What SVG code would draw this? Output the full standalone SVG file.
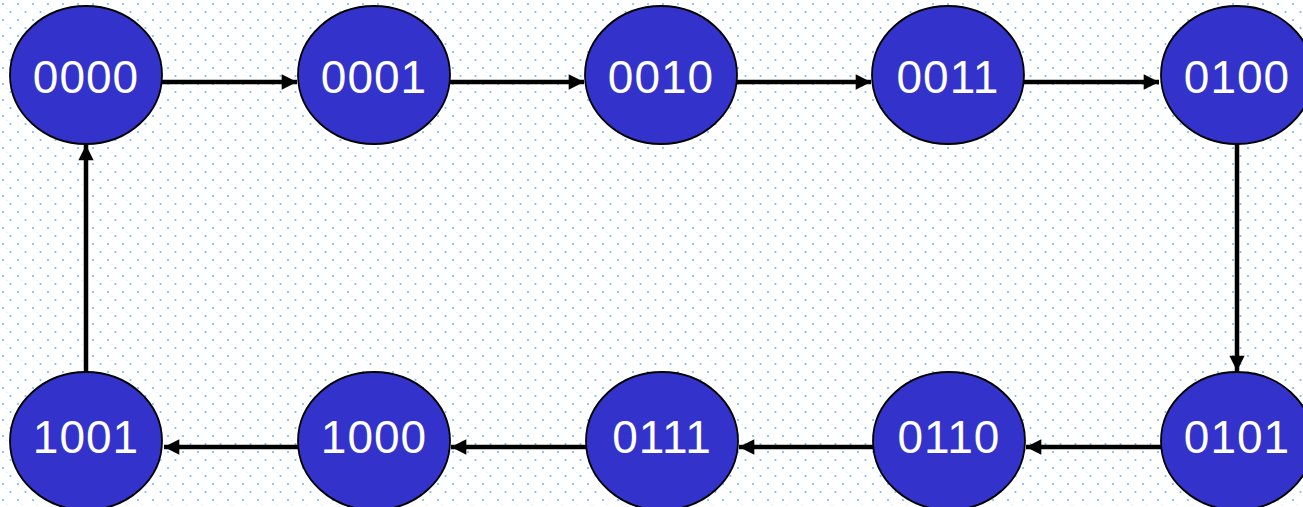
<svg xmlns="http://www.w3.org/2000/svg" width="1303" height="507" viewBox="0 0 1303 507">
<defs>
<pattern id="dots" width="15" height="16" patternUnits="userSpaceOnUse">
<rect width="15" height="16" fill="#ffffff"/>
<circle cx="3" cy="4" r="1.1" fill="#6cc2f2"/>
<circle cx="10.5" cy="12" r="1.1" fill="#6cc2f2"/>
<circle cx="7" cy="8.5" r="0.6" fill="#c8e8fa"/>
</pattern>
<marker id="ah" viewBox="0 0 10 10" refX="10" refY="5" markerWidth="3.6" markerHeight="3.4" orient="auto" markerUnits="strokeWidth">
<path d="M0,0 L10,5 L0,10 z" fill="#000"/>
</marker>
<style>
.n ellipse{fill:#3333cc;stroke:#000;stroke-width:1.8}
.n text{fill:#fff;font-family:"Liberation Sans",Arial,sans-serif;font-size:46px;text-anchor:middle;dominant-baseline:central;letter-spacing:1px}
.c line{stroke:#000;stroke-width:4.5;marker-end:url(#ah)}
</style>
</defs>
<rect width="1303" height="507" fill="url(#dots)"/>
<g id="connectors" class="c">
<line x1="162" y1="82" x2="297" y2="82"/>
<line x1="450" y1="82" x2="584" y2="82"/>
<line x1="737" y1="82" x2="871" y2="82"/>
<line x1="1024" y1="82" x2="1159" y2="82"/>
<line x1="1237" y1="144" x2="1237" y2="371"/>
<line x1="1161" y1="447" x2="1026" y2="447"/>
<line x1="873" y1="447" x2="739" y2="447"/>
<line x1="586" y1="447" x2="451" y2="447"/>
<line x1="298" y1="447" x2="164" y2="447"/>
<line x1="86" y1="372" x2="86" y2="145"/>
</g>
<g id="n0000" class="n"><ellipse cx="86" cy="75" rx="76" ry="69"/><text x="86" y="77">0000</text></g>
<g id="n0001" class="n"><ellipse cx="374" cy="75" rx="76" ry="69"/><text x="374" y="77">0001</text></g>
<g id="n0010" class="n"><ellipse cx="661" cy="75" rx="76" ry="69"/><text x="661" y="77">0010</text></g>
<g id="n0011" class="n"><ellipse cx="948" cy="75" rx="76" ry="69"/><text x="948" y="77">0011</text></g>
<g id="n0100" class="n"><ellipse cx="1237" cy="75" rx="76" ry="69"/><text x="1237" y="77">0100</text></g>
<g id="n0101" class="n"><ellipse cx="1237" cy="441" rx="76" ry="69"/><text x="1237" y="437">0101</text></g>
<g id="n0110" class="n"><ellipse cx="949" cy="441" rx="76" ry="69"/><text x="949" y="437">0110</text></g>
<g id="n0111" class="n"><ellipse cx="662" cy="441" rx="76" ry="69"/><text x="662" y="437">0111</text></g>
<g id="n1000" class="n"><ellipse cx="374" cy="441" rx="76" ry="69"/><text x="374" y="437">1000</text></g>
<g id="n1001" class="n"><ellipse cx="86" cy="441" rx="76" ry="69"/><text x="86" y="437">1001</text></g>
</svg>
